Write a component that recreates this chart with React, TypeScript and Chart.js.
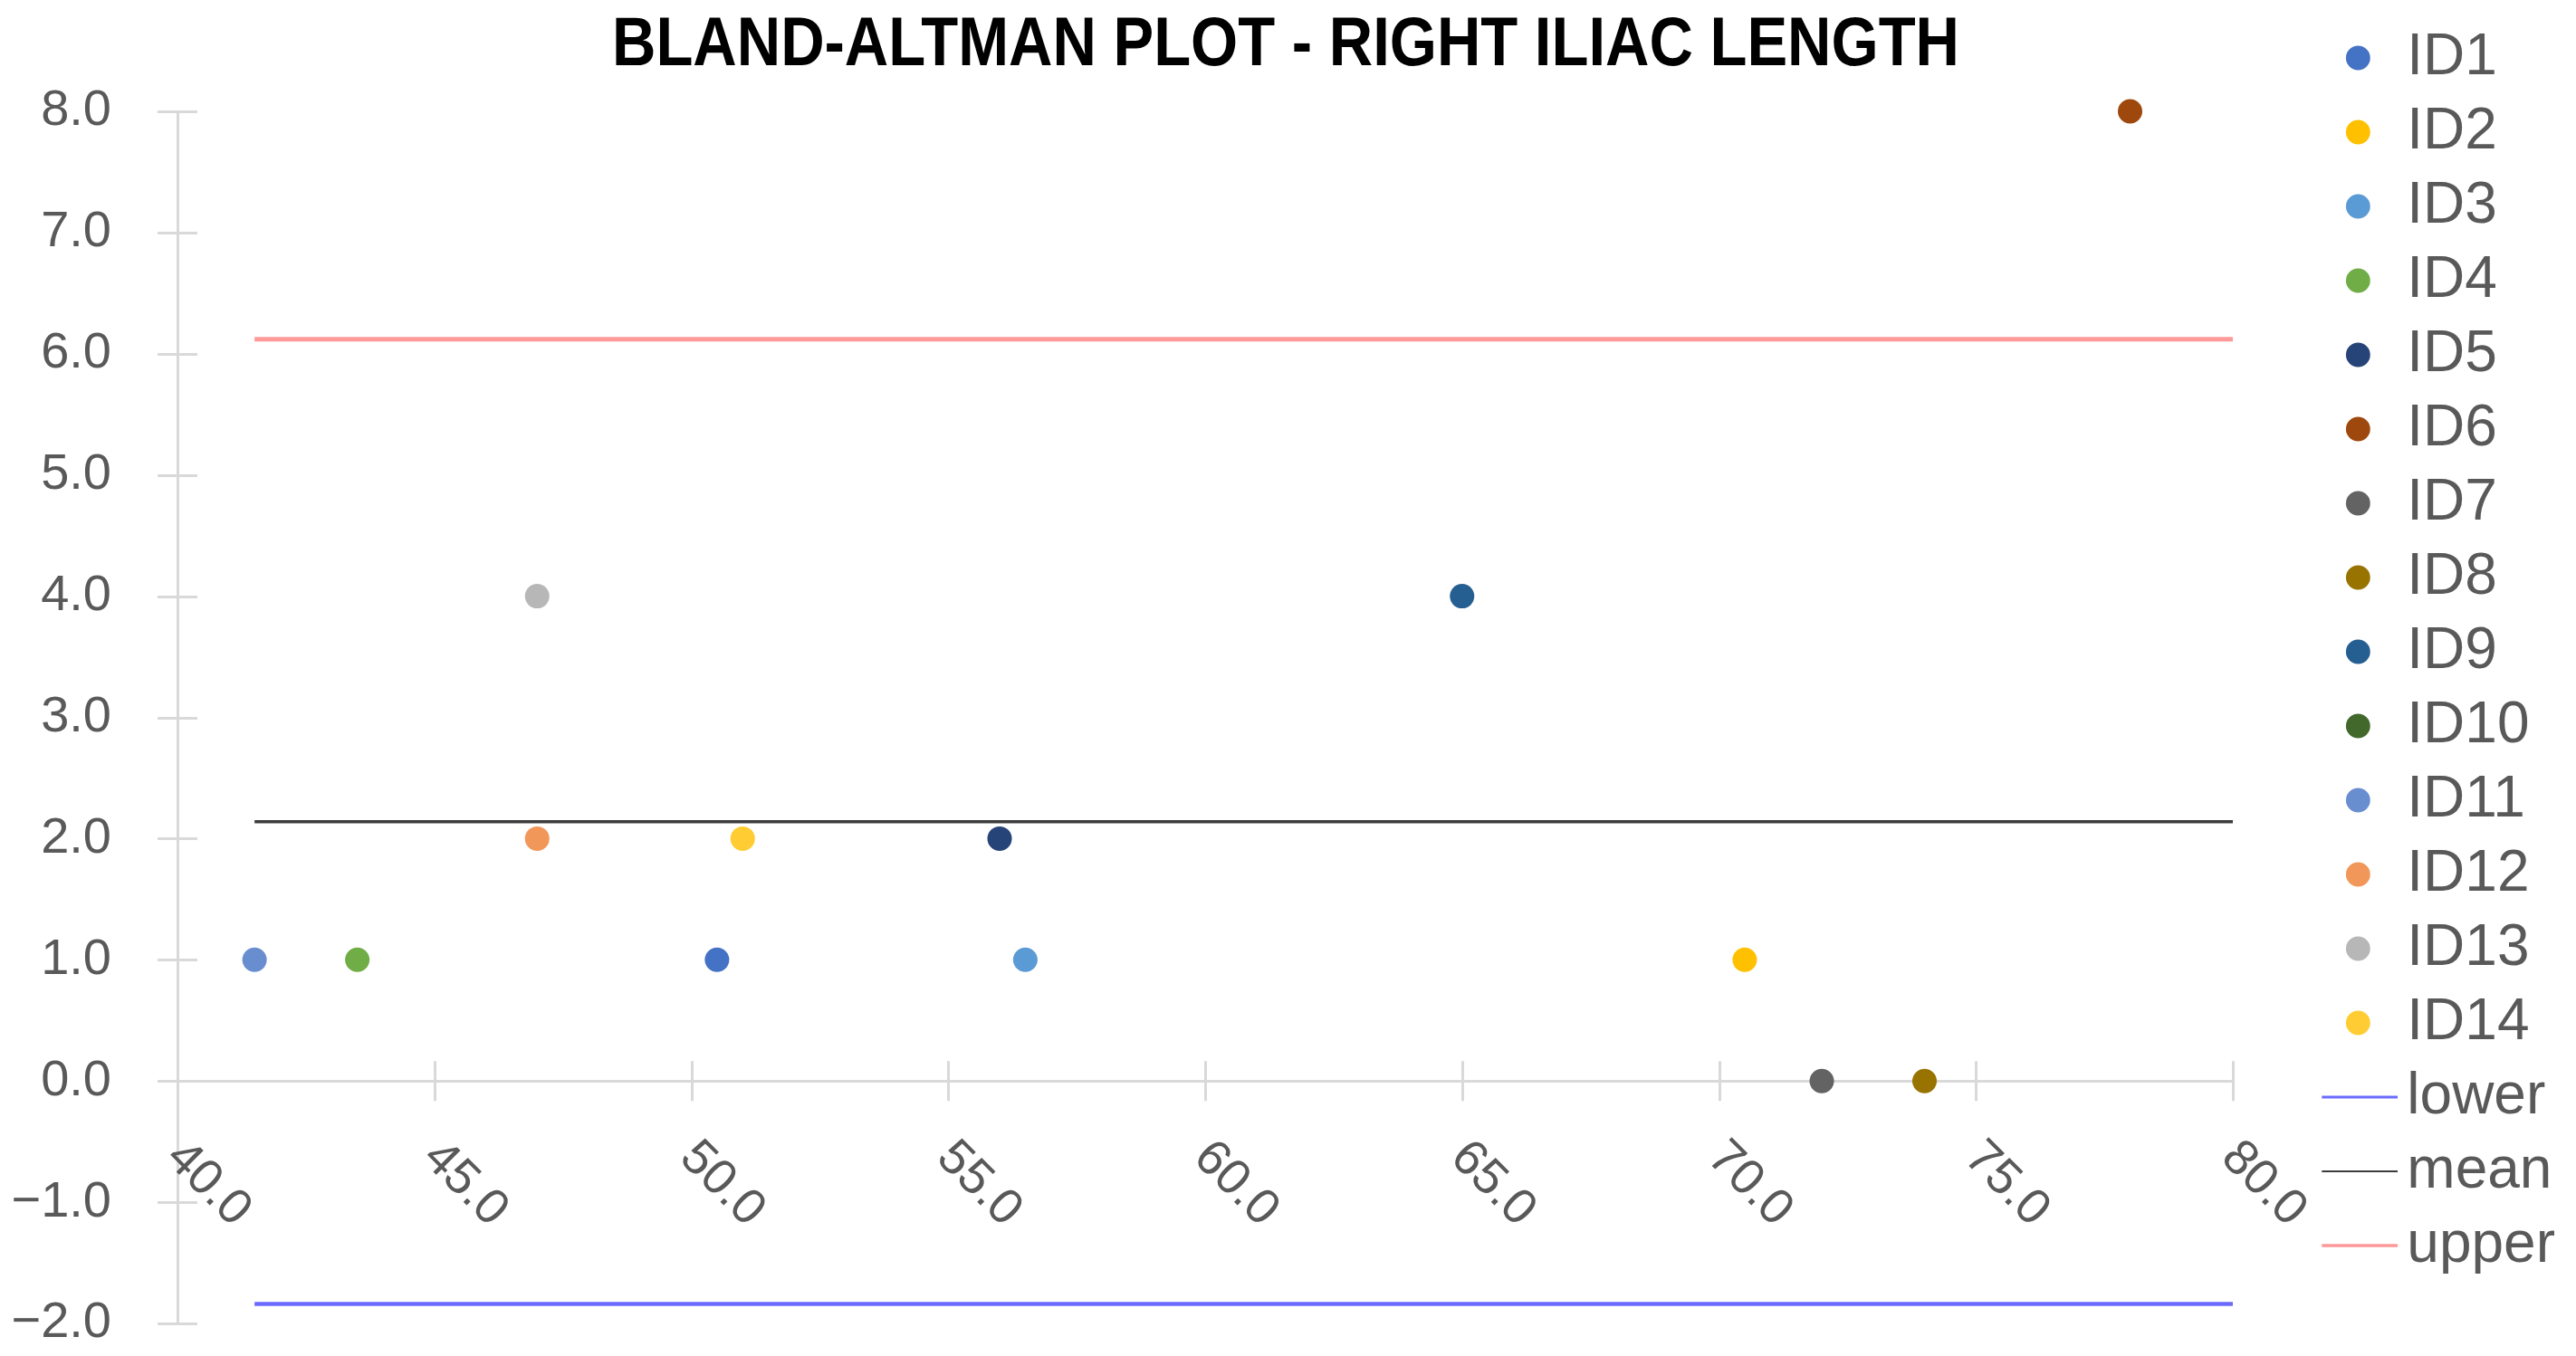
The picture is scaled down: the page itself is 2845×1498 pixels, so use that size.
import React, { useEffect, useRef } from 'react';
import { Chart, registerables } from 'chart.js';

Chart.register(...registerables);

// ---------- data ----------
const TITLE = 'BLAND-ALTMAN PLOT - RIGHT ILIAC LENGTH';
const seriesNames = ['ID1', 'ID2', 'ID3', 'ID4', 'ID5', 'ID6', 'ID7', 'ID8', 'ID9', 'ID10', 'ID11', 'ID12', 'ID13', 'ID14'];
// mean of the two measurements (x)
const meanValues: (number | null)[] = [50.5, 70.5, 56.5, 43.5, 56.0, 78.0, 72.0, 74.0, 65.0, null, 41.5, 47.0, 47.0, 51.0];
// difference of the two measurements (y)
const diffValues: (number | null)[] = [1, 1, 1, 1, 2, 8, 0, 0, 4, null, 1, 2, 4, 2];
const seriesColors = ['#4472C4', '#FFC000', '#5B9BD5', '#70AD47', '#264478', '#9E480E', '#636363', '#997300', '#255E91', '#43682B', '#698ED0', '#F1975A', '#B7B7B7', '#FFCD33'];

const limitNames = ['lower', 'mean', 'upper'];
const limitValues = [-1.84, 2.14, 6.12];
const limitColors = ['#6B6BFF', '#3C3C3C', '#FF9A9A'];
const limitWidths = [4.5, 3.5, 5];
const limitRangeX = [41.5, 80];

const xTickValues = [40, 45, 50, 55, 60, 65, 70, 75, 80];
const yTickValues = [-2, -1, 0, 1, 2, 3, 4, 5, 6, 7, 8];

// ---------- layout constants ----------
const CW = 2829;
const CH = 1482;
const PAD_TOP = 6;
const PAD_RIGHT = 5;
const AREA_LEFT = 188;
const AREA_TOP = 115;
const AREA_RIGHT = 2458;
const TICK_FONT = "'Liberation Sans', Arial, sans-serif";
const TITLE_FONT = "'Liberation Sans', Arial, sans-serif";
const TITLE_SIZE = 76;
const TITLE_WIDTH = 1488;
const TITLE_CENTER_X = 1412;
const TITLE_BASELINE = 64;
const AXIS_COLOR = '#D9D9D9';
const LABEL_COLOR = '#595959';

const fmt = (v: number) => (v < 0 ? '\u2212' + Math.abs(v).toFixed(1) : v.toFixed(1));

function lineImage(color: string, width: number): HTMLCanvasElement {
  const c = document.createElement('canvas');
  c.width = 88;
  c.height = 8;
  const ctx = c.getContext('2d')!;
  ctx.strokeStyle = color;
  ctx.lineWidth = Math.max(2, width - 1.5);
  ctx.beginPath();
  ctx.moveTo(0, 4);
  ctx.lineTo(88, 4);
  ctx.stroke();
  return c;
}

const axisDecor = {
  id: 'axisDecor',
  beforeDatasetsDraw(chart: any) {
    const { ctx } = chart;
    const xs = chart.scales.x;
    const ys = chart.scales.y;
    const left = chart.chartArea.left;
    const y0 = ys.getPixelForValue(0);
    ctx.save();
    ctx.strokeStyle = AXIS_COLOR;
    ctx.lineWidth = 3;
    ctx.beginPath();
    ys.ticks.forEach((t: any) => {
      const py = Math.round(ys.getPixelForValue(t.value)) + 0.5;
      ctx.moveTo(left - 22, py);
      ctx.lineTo(left + 22, py);
    });
    xs.ticks.forEach((t: any) => {
      const px = Math.round(xs.getPixelForValue(t.value)) + 0.5;
      ctx.moveTo(px, y0 - 22);
      ctx.lineTo(px, y0 + 22);
    });
    ctx.stroke();
    ctx.restore();
  },
  afterDraw(chart: any) {
    const { ctx } = chart;
    const xs = chart.scales.x;
    const ys = chart.scales.y;
    const y0 = ys.getPixelForValue(0);
    // rotated x tick labels (clockwise, reading downwards)
    ctx.save();
    ctx.font = `55px ${TICK_FONT}`;
    ctx.fillStyle = LABEL_COLOR;
    ctx.textAlign = 'left';
    ctx.textBaseline = 'middle';
    xs.ticks.forEach((t: any) => {
      const px = xs.getPixelForValue(t.value);
      ctx.save();
      ctx.translate(px - 4, y0 + 76);
      ctx.rotate(Math.PI / 4);
      ctx.fillText(fmt(t.value), 0, 0);
      ctx.restore();
    });
    ctx.restore();
    // chart title (condensed bold)
    ctx.save();
    ctx.font = `bold ${TITLE_SIZE}px ${TITLE_FONT}`;
    ctx.fillStyle = '#000000';
    ctx.textAlign = 'center';
    ctx.textBaseline = 'alphabetic';
    const w = ctx.measureText(TITLE).width;
    const sx = w > 0 ? TITLE_WIDTH / w : 1;
    ctx.translate(TITLE_CENTER_X, TITLE_BASELINE);
    ctx.scale(sx, 1);
    ctx.fillText(TITLE, 0, 0);
    ctx.restore();
  },
};

export default function App() {
  const ref = useRef<HTMLCanvasElement | null>(null);

  useEffect(() => {
    if (!ref.current) return;

    const pointSets = seriesNames.map((name, i) => ({
      label: name,
      type: 'scatter' as const,
      data:
        meanValues[i] == null || diffValues[i] == null
          ? []
          : [{ x: meanValues[i] as number, y: diffValues[i] as number }],
      backgroundColor: seriesColors[i],
      borderColor: seriesColors[i],
      borderWidth: 0,
      pointRadius: 13.5,
      pointHoverRadius: 13.5,
      pointStyle: 'circle',
      clip: false,
    }));

    const limitSets = limitNames.map((name, i) => ({
      label: name,
      type: 'scatter' as const,
      showLine: true,
      data: [
        { x: limitRangeX[0], y: limitValues[i] },
        { x: limitRangeX[1], y: limitValues[i] },
      ],
      borderColor: limitColors[i],
      backgroundColor: limitColors[i],
      borderWidth: limitWidths[i],
      pointRadius: 0,
      pointHoverRadius: 0,
      pointStyle: lineImage(limitColors[i], limitWidths[i]),
    }));

    const chart = new Chart(ref.current, {
      type: 'scatter',
      data: { datasets: [...pointSets, ...limitSets] as any },
      plugins: [axisDecor],
      options: {
        responsive: false,
        animation: false,
        devicePixelRatio: 1,
        layout: { padding: { top: PAD_TOP, right: PAD_RIGHT, bottom: 0, left: 0 } },
        events: [],
        plugins: {
          title: { display: false },
          legend: {
            position: 'right',
            align: 'start',
            labels: {
              usePointStyle: true,
              boxWidth: 44,
              boxHeight: 19,
              padding: 18,
              color: LABEL_COLOR,
              font: { family: TICK_FONT, size: 64 },
            },
          },
          tooltip: { enabled: false },
        },
        scales: {
          x: {
            type: 'linear',
            position: { y: 0 } as any,
            min: xTickValues[0],
            max: xTickValues[xTickValues.length - 1],
            afterBuildTicks: (s: any) => {
              s.ticks = xTickValues.map((v) => ({ value: v }));
            },
            ticks: { display: false },
            grid: { display: false, drawTicks: false },
            border: { color: AXIS_COLOR, width: 3 },
          },
          xTop: {
            type: 'linear',
            axis: 'x',
            position: 'top',
            display: true,
            ticks: { display: false },
            grid: { display: false, drawTicks: false },
            border: { display: false },
            afterFit: (s: any) => {
              s.height = AREA_TOP - PAD_TOP;
            },
          },
          y: {
            type: 'linear',
            position: 'left',
            min: yTickValues[0],
            max: yTickValues[yTickValues.length - 1],
            afterBuildTicks: (s: any) => {
              s.ticks = yTickValues.map((v) => ({ value: v }));
            },
            ticks: {
              padding: 0,
              color: LABEL_COLOR,
              font: { family: TICK_FONT, size: 56, lineHeight: 1 },
              callback: (v: any) => fmt(Number(v)),
            },
            grid: { display: false, drawTicks: true, tickLength: 73 },
            border: { color: AXIS_COLOR, width: 3 },
            afterFit: (s: any) => {
              s.width = AREA_LEFT;
            },
          },
          yR: {
            type: 'linear',
            axis: 'y',
            position: 'right',
            display: true,
            ticks: { display: false },
            grid: { display: false, drawTicks: false },
            border: { display: false },
            afterFit: (s: any) => {
              const lw = s.chart.legend ? s.chart.legend.width : 0;
              s.width = Math.max(0, CW - PAD_RIGHT - AREA_RIGHT - lw);
            },
          },
        },
      } as any,
    });

    return () => chart.destroy();
  }, []);

  return (
    <div style={{ width: CW, height: CH, background: '#ffffff' }}>
      <canvas ref={ref} width={CW} height={CH} style={{ display: 'block', width: CW, height: CH }} />
    </div>
  );
}
